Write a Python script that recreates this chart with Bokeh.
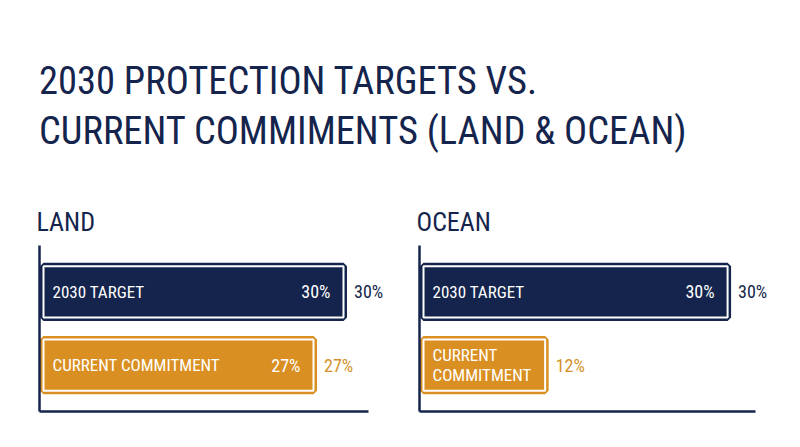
from bokeh.plotting import figure
from bokeh.models import ColumnDataSource, LabelSet, Label, Range1d, FactorRange, Title, FixedTicker
from bokeh.core.properties import value
from bokeh.layouts import column, row
from bokeh.embed import file_html
from bokeh.resources import INLINE

# ---- data ----
title_lines = ["2030 PROTECTION TARGETS VS.", "CURRENT COMMIMENTS (LAND & OCEAN)"]
categories = ["2030 TARGET", "CURRENT COMMITMENT"]
land_values = [30, 27]
ocean_values = [30, 12]
land_bar_labels = ["2030 TARGET", "CURRENT COMMITMENT"]
ocean_bar_labels = ["2030 TARGET", "CURRENT\nCOMMITMENT"]
land_inner_values = ["30%", "27%"]
ocean_inner_values = ["30%", ""]
land_outer_values = ["30%", "27%"]
ocean_outer_values = ["30%", "12%"]

NAVY = "#14244c"
ORANGE = "#d98f22"
ORANGE_TEXT = "#d4912b"
FONT = "Roboto Condensed"
bar_colors = [NAVY, ORANGE]
text_colors = [NAVY, ORANGE_TEXT]

# ---- header ----
header = figure(width=800, height=178, output_backend="svg", toolbar_location=None, title=None,
                x_range=Range1d(0, 800), y_range=Range1d(0, 178), min_border=0)
header.axis.visible = False
header.grid.visible = False
header.outline_line_color = None
for i, line in enumerate(title_lines):
    header.add_layout(Label(x=38.5, y=98 - i * 50, text=line, text_font=FONT, text_font_size="38.5px",
                            text_color=NAVY, text_baseline="middle"))


def panel(name, values, bar_labels, inner_values, outer_values, border_left, border_right,
          x_start, x_end, axis_end):
    p = figure(width=400, height=269, output_backend="svg", toolbar_location=None,
               y_range=FactorRange(*categories[::-1], range_padding=0.135, range_padding_units="absolute"),
               x_range=Range1d(x_start, x_end),
               min_border_left=border_left, min_border_right=border_right,
               min_border_top=67, min_border_bottom=36)
    p.grid.visible = False
    p.outline_line_color = None
    for ax in (p.xaxis[0], p.yaxis[0]):
        ax.ticker = FixedTicker(ticks=[])
        ax.axis_line_color = NAVY
        ax.axis_line_width = 2.5
        ax.major_tick_line_color = None
        ax.minor_tick_line_color = None
        ax.major_tick_out = 0
        ax.major_label_text_font_size = "0px"
        ax.major_label_standoff = 0
    p.xaxis[0].bounds = (x_start, axis_end)
    p.title = Title(text=name, text_font=FONT, text_font_size="26px", text_font_style="normal",
                    text_color=NAVY, align="left", offset=-3, standoff=18)

    src = ColumnDataSource(dict(y=categories, value=values, label=bar_labels, inner=inner_values,
                                outer=outer_values, color=bar_colors, tcolor=text_colors,
                                zero=[0] * len(values)))
    p.hbar(y="y", left=0, right="value", height=0.70, fill_color="color", line_color="color",
           line_width=7, source=src)
    p.hbar(y="y", left=0, right="value", height=0.70, fill_color=None, line_color="white",
           line_width=2, source=src)
    p.add_layout(LabelSet(x="zero", y="y", text="label", x_offset=9, source=src,
                          text_font=value(FONT), text_font_size=value("17px"), text_color="white",
                          text_align="left", text_baseline="middle", text_line_height=0.96))
    p.add_layout(LabelSet(x="value", y="y", text="inner", x_offset=-13, source=src,
                          text_font=value(FONT), text_font_size=value("18px"), text_color="white",
                          text_align="right", text_baseline="middle"))
    p.add_layout(LabelSet(x="value", y="y", text="outer", x_offset=10.5, source=src,
                          text_font=value(FONT), text_font_size=value("18px"), text_color="tcolor",
                          text_align="left", text_baseline="middle"))
    return p


land = panel("LAND", land_values, land_bar_labels, land_inner_values, land_outer_values,
             39, 2, -0.4, 35.5, 32.5)
ocean = panel("OCEAN", ocean_values, ocean_bar_labels, ocean_inner_values, ocean_outer_values,
              19, 5, -0.395, 36.7, 32.8)

layout = column(header, row(land, ocean))
open("out.html", "w").write(file_html(layout, INLINE))
